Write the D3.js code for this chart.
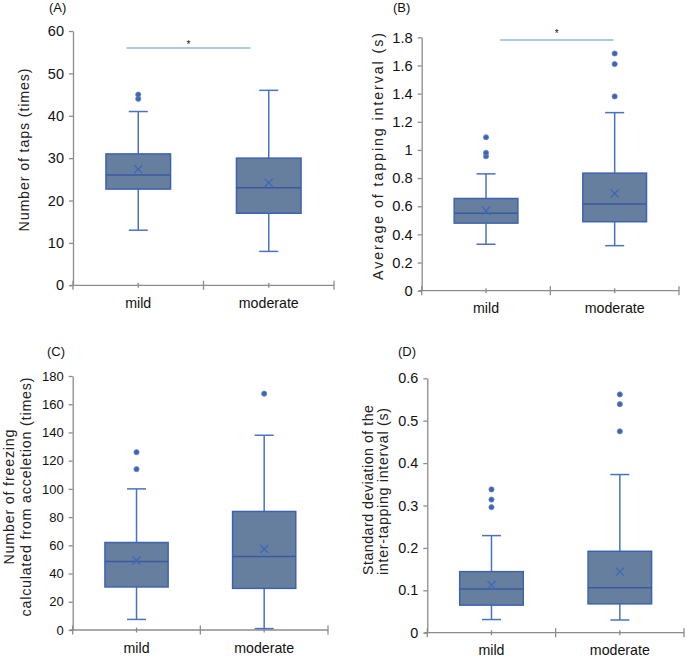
<!DOCTYPE html>
<html><head><meta charset="utf-8">
<script src="https://cdn.jsdelivr.net/npm/d3@7"></script>
<style>body{margin:0;background:#fff} svg{display:block}</style>
</head><body>
<svg id="chart" width="687" height="657"></svg>
<script>
// ---------------- DATA ----------------
const categories = ["mild", "moderate"];

// box stats: [lower whisker, Q1, median, Q3, upper whisker]
const tapsBoxes = [[13, 22.7, 26, 31, 41], [8, 17, 23, 30, 46]];
const tapsMeans = [27.4, 24.2];
const tapsOutliers = [[44, 45], []];
const tapsTicks = [0, 10, 20, 30, 40, 50, 60];
const tapsSignificance = 56;

const intervalBoxes = [[0.33, 0.48, 0.55, 0.655, 0.83], [0.32, 0.49, 0.615, 0.835, 1.265]];
const intervalMeans = [0.568, 0.69];
const intervalOutliers = [[0.955, 0.98, 1.09], [1.38, 1.61, 1.685]];
const intervalTicks = [0, 0.2, 0.4, 0.6, 0.8, 1, 1.2, 1.4, 1.6, 1.8];
const intervalSignificance = 1.78;

const freezingBoxes = [[7.5, 30.5, 48.5, 62, 100], [1, 29.5, 52, 84, 138]];
const freezingMeans = [49.3, 57.4];
const freezingOutliers = [[114, 126], [167.5]];
const freezingTicks = [0, 20, 40, 60, 80, 100, 120, 140, 160, 180];

const sdBoxes = [[0.031, 0.065, 0.103, 0.144, 0.229], [0.030, 0.068, 0.106, 0.192, 0.373]];
const sdMeans = [0.1125, 0.144];
const sdOutliers = [[0.296, 0.314, 0.338], [0.475, 0.539, 0.562]];
const sdTicks = [0, 0.1, 0.2, 0.3, 0.4, 0.5, 0.6];

const panelLetters = ["(A)", "(B)", "(C)", "(D)"];
const tapsTitle = ["Number of taps (times)"];
const intervalTitle = ["Average of tapping interval (s)"];
const freezingTitle = ["Number of freezing", "calculated from acceletion (times)"];
const sdTitle = ["Standard deviation of the", "inter-tapping interval (s)"];

// ---------------- LAYOUT ----------------
const FONT = "Liberation Sans, Arial, Helvetica, sans-serif";
const AXIS = "#8c8c8c";
const WHISK = "#4a72c4";
const BOXFILL = "#667f9f";
const BOXSTROKE = "#3d63b0";
const SIGLINE = "#8fb4e3";

const panels = [
  { boxes: tapsBoxes, means: tapsMeans, outliers: tapsOutliers, ticks: tapsTicks, sig: tapsSignificance,
    sigSpan: [0.41, 1.36], starDx: 0, starY: 44,
    letter: panelLetters[0], title: tapsTitle,
    left: 73, right: 334, top: 31, bottom: 285.3,
    tickFont: 14.5, catFont: 14.2, letterPos: [49, 11.5],
    titleX: [29], titleY: 150, titleLen: [163], titleFont: 14.2 },
  { boxes: intervalBoxes, means: intervalMeans, outliers: intervalOutliers, ticks: intervalTicks, sig: intervalSignificance,
    sigSpan: [0.61, 1.49], starY: 33,
    letter: panelLetters[1], title: intervalTitle,
    left: 421.7, right: 679, top: 37.3, bottom: 290.7,
    tickFont: 14.7, catFont: 14.2, letterPos: [393, 12],
    titleX: [383], titleY: 156.5, titleLen: [247], titleFont: 14.2 },
  { boxes: freezingBoxes, means: freezingMeans, outliers: freezingOutliers, ticks: freezingTicks, sig: null,
    letter: panelLetters[2], title: freezingTitle,
    left: 72.7, right: 328, top: 376, bottom: 630,
    tickFont: 13, catFont: 14.2, letterPos: [47, 356],
    titleX: [13.5, 30.5], titleY: 497, titleLen: [135, 239], titleFont: 14.2 },
  { boxes: sdBoxes, means: sdMeans, outliers: sdOutliers, ticks: sdTicks, sig: null,
    letter: panelLetters[3], title: sdTitle,
    left: 427.3, right: 684, top: 378.3, bottom: 632.7,
    tickFont: 14.4, catFont: 14.2, letterPos: [398, 356],
    titleX: [372.5, 387.5], titleY: [490, 491.5], titleLen: [170, 167], titleFont: 14.2 }
];

const svg = d3.select("#chart");

panels.forEach(p => {
  const g = svg.append("g");
  const maxV = p.ticks[p.ticks.length - 1];
  const y = d3.scaleLinear().domain([0, maxV]).range([p.bottom, p.top]);
  const xb = d3.scaleBand().domain(categories).range([p.left, p.right]);
  const xi = d3.scaleLinear().domain([0, 2]).range([p.left, p.right]);
  const cx = c => xb(c) + xb.bandwidth() / 2;
  const boxW = xb.bandwidth() * 0.495;
  const capW = 19;

  // y axis
  const yAxis = d3.axisLeft(y).tickValues(p.ticks).tickSize(4).tickSizeOuter(0)
    .tickPadding(5).tickFormat(d3.format("~g"));
  const ya = g.append("g").attr("transform", `translate(${p.left},0)`).call(yAxis);
  ya.select(".domain").attr("stroke", AXIS).attr("stroke-width", 1.3);
  ya.selectAll(".tick line").attr("stroke", AXIS).attr("stroke-width", 1.3);
  ya.selectAll(".tick text").attr("fill", "#111").style("font-family", FONT).style("font-size", p.tickFont + "px");

  // x axis
  g.append("line").attr("x1", p.left - 3).attr("x2", p.right)
    .attr("y1", y(0)).attr("y2", y(0)).attr("stroke", AXIS).attr("stroke-width", 1.3);
  [0, 1, 2].forEach(i => {
    g.append("line").attr("x1", xi(i)).attr("x2", xi(i)).attr("y1", y(0) - 4.5).attr("y2", y(0) + 4.5)
      .attr("stroke", AXIS).attr("stroke-width", 1.3);
  });
  categories.forEach(c => {
    g.append("line").attr("x1", cx(c)).attr("x2", cx(c)).attr("y1", y(0) - 2.5).attr("y2", y(0) + 2.5)
      .attr("stroke", AXIS).attr("stroke-width", 1.3);
    g.append("text").attr("x", cx(c)).attr("y", y(0) + 22.5).attr("text-anchor", "middle")
      .style("font-family", FONT).style("font-size", p.catFont + "px").attr("fill", "#111").text(c);
  });

  // boxes
  categories.forEach((c, i) => {
    const [lo, q1, med, q3, hi] = p.boxes[i];
    const x0 = cx(c);
    // whiskers
    g.append("line").attr("x1", x0).attr("x2", x0).attr("y1", y(hi)).attr("y2", y(q3))
      .attr("stroke", WHISK).attr("stroke-width", 1.5);
    g.append("line").attr("x1", x0).attr("x2", x0).attr("y1", y(q1)).attr("y2", y(lo))
      .attr("stroke", WHISK).attr("stroke-width", 1.5);
    [lo, hi].forEach(v => g.append("line").attr("x1", x0 - capW / 2).attr("x2", x0 + capW / 2)
      .attr("y1", y(v)).attr("y2", y(v)).attr("stroke", WHISK).attr("stroke-width", 1.5));
    // box
    g.append("rect").attr("x", x0 - boxW / 2).attr("width", boxW)
      .attr("y", y(q3)).attr("height", y(q1) - y(q3))
      .attr("fill", BOXFILL).attr("stroke", BOXSTROKE).attr("stroke-width", 1.5);
    // median
    g.append("line").attr("x1", x0 - boxW / 2).attr("x2", x0 + boxW / 2)
      .attr("y1", y(med)).attr("y2", y(med)).attr("stroke", "#3a5aa0").attr("stroke-width", 1.5);
    // mean X
    const m = y(p.means[i]), s = 4;
    g.append("path").attr("d", `M${x0 - s},${m - s}L${x0 + s},${m + s}M${x0 - s},${m + s}L${x0 + s},${m - s}`)
      .attr("stroke", "#3f66bb").attr("stroke-width", 1.3).attr("fill", "none");
    // outliers
    p.outliers[i].forEach(v => g.append("circle").attr("cx", x0).attr("cy", y(v)).attr("r", 2.6)
      .attr("fill", "#3f63ad").attr("stroke", "#6a8ccc").attr("stroke-width", 0.8));
  });

  // significance
  if (p.sig !== null) {
    g.append("line").attr("x1", xi(p.sigSpan[0])).attr("x2", xi(p.sigSpan[1]))
      .attr("y1", y(p.sig)).attr("y2", y(p.sig)).attr("stroke", SIGLINE).attr("stroke-width", 1.5);
    const mid = (xi(p.sigSpan[0]) + xi(p.sigSpan[1])) / 2;
    g.append("text").attr("x", mid).attr("y", p.starY + 4).attr("text-anchor", "middle")
      .style("font-family", FONT).style("font-size", "10px").attr("fill", "#111").text("*");
  }

  // panel letter
  g.append("text").attr("x", p.letterPos[0]).attr("y", p.letterPos[1])
    .style("font-family", FONT).style("font-size", "13px").attr("fill", "#111").text(p.letter);

  // y title
  p.title.forEach((t, k) => {
    const ty = Array.isArray(p.titleY) ? p.titleY[k] : p.titleY;
    g.append("text").attr("transform", `translate(${p.titleX[k]},${ty}) rotate(-90)`)
      .attr("text-anchor", "middle").attr("textLength", p.titleLen[k]).attr("lengthAdjust", "spacing")
      .style("font-family", FONT).style("font-size", p.titleFont + "px").attr("fill", "#222").text(t);
  });
});
</script>
</body></html>
